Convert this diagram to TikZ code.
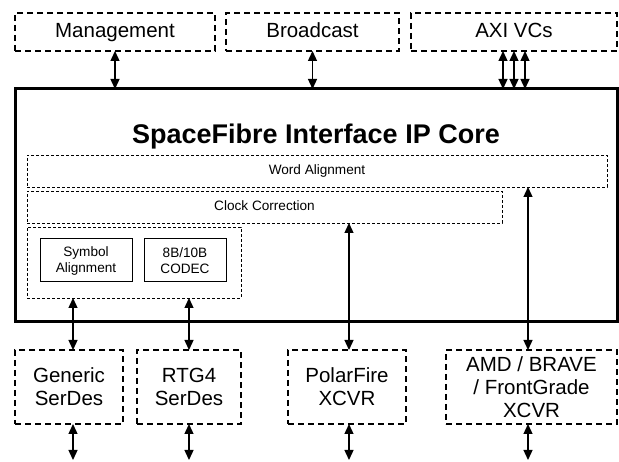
\documentclass[tikz,border=0pt]{standalone}
\usepackage{fontspec}
\setmainfont{Liberation Sans}
\usetikzlibrary{arrows.meta}
\begin{document}
\begin{tikzpicture}[x=1pt,y=-1pt,
  every node/.style={inner sep=0pt,outer sep=0pt},
  extbox/.style={draw,line width=1.8pt,dash pattern=on 6pt off 4pt,align=center,font=\fontsize{20.5}{23}\selectfont},
  topbox/.style={extbox,text height=15pt,text depth=4pt},
  corebox/.style={draw,line width=3pt},
  layerbox/.style={draw,line width=0.9pt,dash pattern=on 3pt off 2pt,font=\fontsize{13.6}{15.5}\selectfont,text height=10pt,text depth=3pt},
  blockbox/.style={draw,line width=1pt,align=center,font=\fontsize{13.6}{16}\selectfont},
  link/.style={line width=1.3pt,{Triangle[length=10pt,width=9pt]}-{Triangle[length=10pt,width=9pt]}}]
\useasboundingbox (0,0) rectangle (619,462);
% top interfaces
\node[topbox,minimum width=200pt,minimum height=38pt] (mgmt) at (115,32) {Management};
\node[topbox,minimum width=173pt,minimum height=38pt] (bcast) at (312.5,32) {Broadcast};
\node[topbox,minimum width=206pt,minimum height=38pt] (axi) at (514,32) {AXI VCs};
% core
\node[corebox,minimum width=602pt,minimum height=233pt] (core) at (316,205.5) {};
\node[font=\fontsize{27}{30}\bfseries,text height=19.5pt,text depth=5pt] (title) at (316,136) {SpaceFibre Interface IP Core};
\node[layerbox,minimum width=580pt,minimum height=32pt] (word) at (317,171) {Word Alignment};
\node[layerbox,minimum width=475pt,minimum height=32pt] (clock) at (264.5,207) {Clock Correction};
\node[draw,line width=0.9pt,dash pattern=on 3pt off 2pt,minimum width=214pt,minimum height=71pt] (group) at (134,262.5) {};
\node[blockbox,minimum width=92pt,minimum height=43pt] (sym) at (86,260.5) {Symbol\\Alignment};
\node[blockbox,minimum width=82pt,minimum height=43pt] (codec) at (185,260.5) {8B/10B\\CODEC};
% bottom transceivers
\node[extbox,minimum width=108pt,minimum height=74pt] (gen) at (69,387) {Generic\\SerDes};
\node[extbox,minimum width=104pt,minimum height=74pt] (rtg) at (189,387) {RTG4\\SerDes};
\node[extbox,minimum width=118pt,minimum height=74pt] (pf) at (347,387) {PolarFire\\XCVR};
\node[extbox,minimum width=171pt,minimum height=74pt] (amd) at (531.5,387) {AMD / BRAVE\\/ FrontGrade\\XCVR};
% free ends of the bottom links
\coordinate (ge) at (73,460);
\coordinate (re) at (189,460);
\coordinate (pe) at (349,460);
\coordinate (ae) at (528,460);
% top links
\draw[link] (mgmt.south) -- (mgmt.south |- core.north);
\draw[link] (bcast.south) -- (bcast.south |- core.north);
\foreach \d in {-11,0,11}
  \draw[link] ([xshift=\d pt]axi.south) -- ([xshift=\d pt]axi.south |- core.north);
% middle links
\draw[link] (gen.north -| ge) -- (group.south -| ge);
\draw[link] (rtg.north -| re) -- (group.south -| re);
\draw[link] (pf.north -| pe) -- (clock.south -| pe);
\draw[link] (amd.north -| ae) -- (word.south -| ae);
% bottom links
\draw[link] (gen.south -| ge) -- (ge);
\draw[link] (rtg.south -| re) -- (re);
\draw[link] (pf.south -| pe) -- (pe);
\draw[link] (amd.south -| ae) -- (ae);
\end{tikzpicture}
\end{document}
